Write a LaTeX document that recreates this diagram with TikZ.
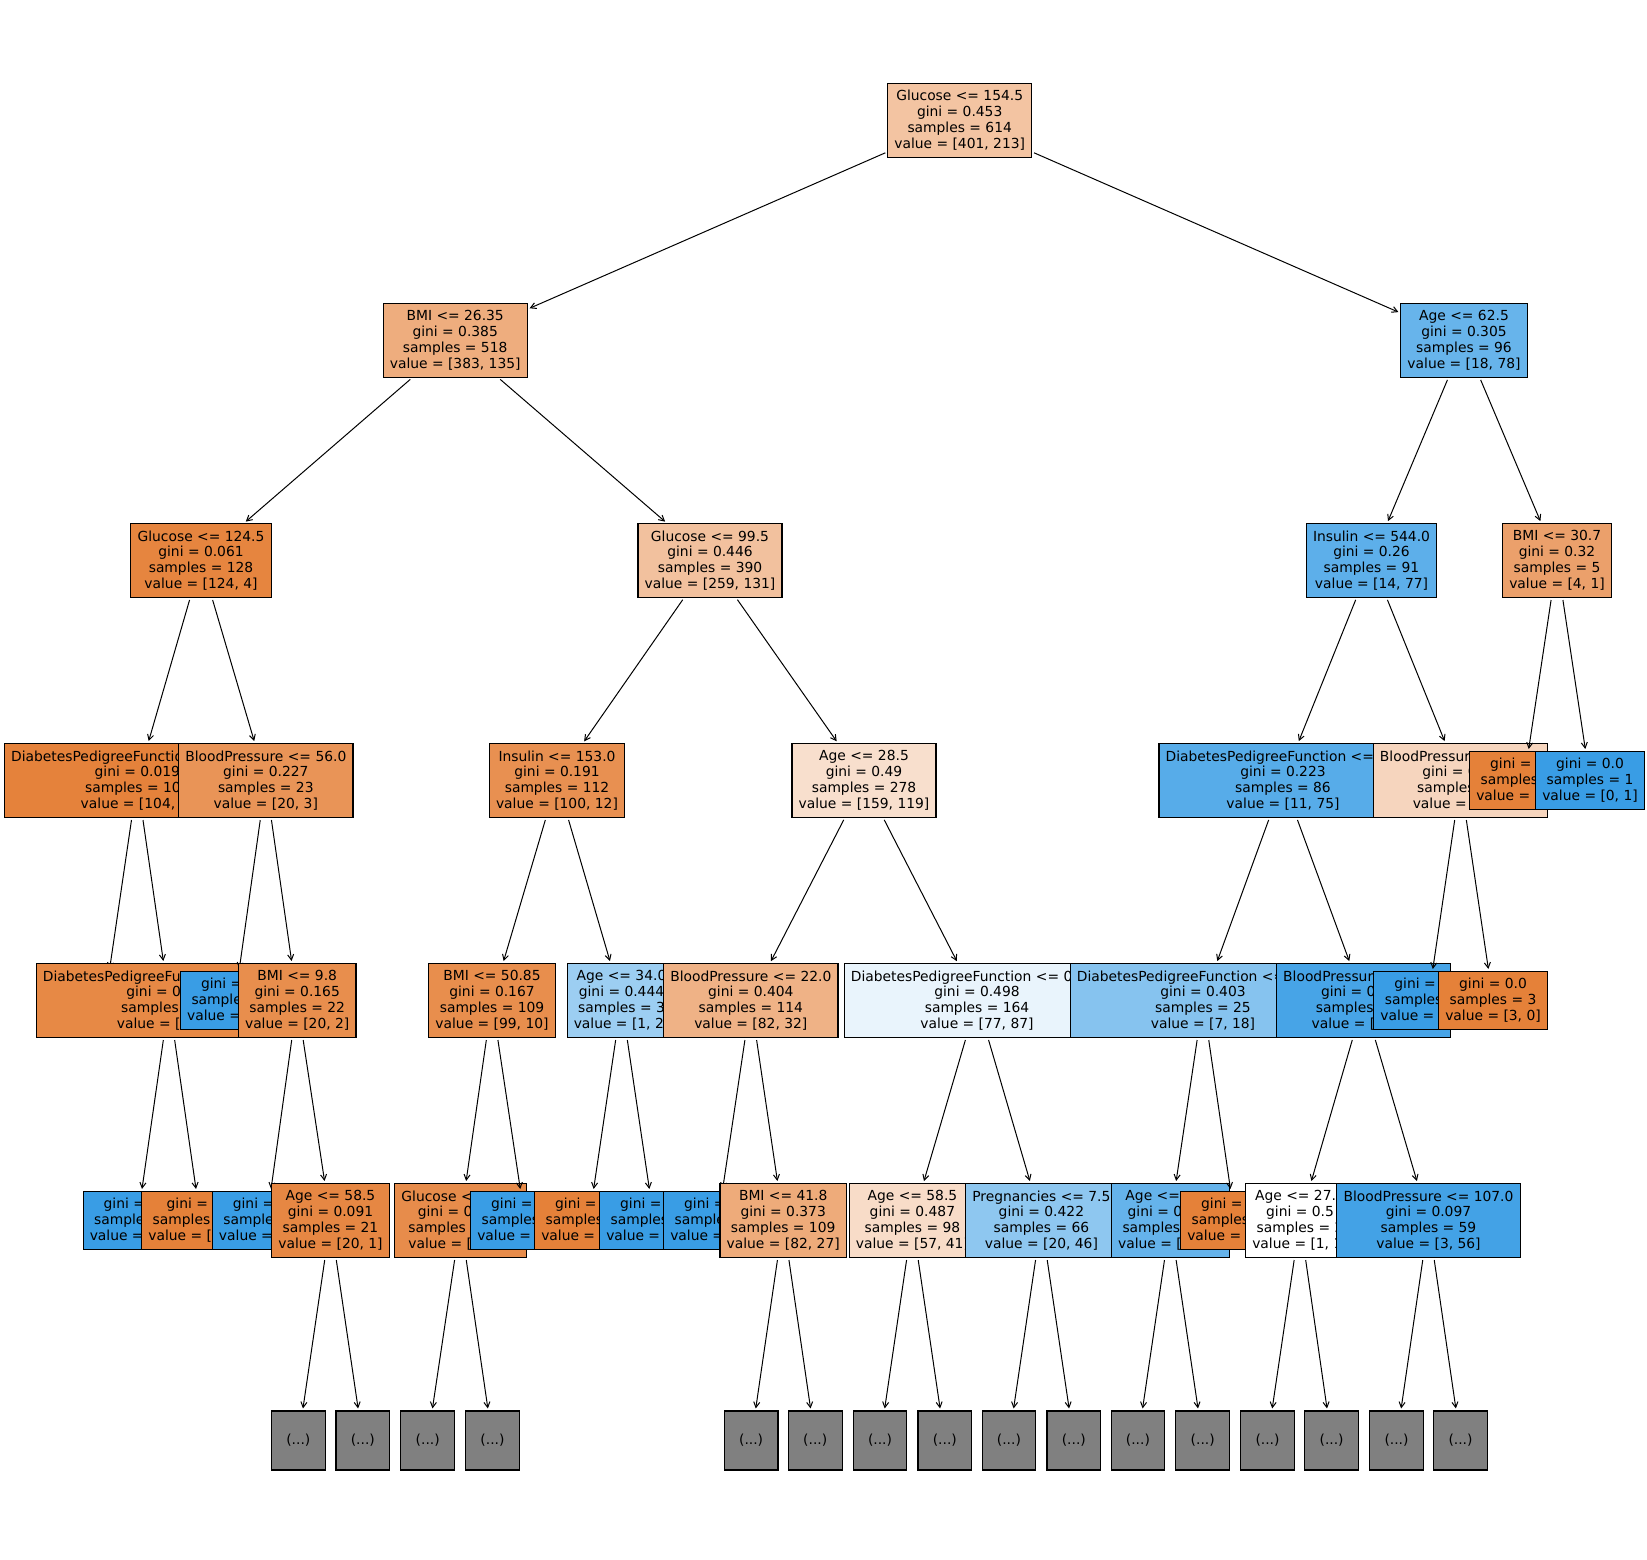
\documentclass[tikz,border=0pt]{standalone}
\usepackage{fontspec}
\setmainfont{DejaVu Sans}
\usetikzlibrary{arrows.meta}
\definecolor{cO}{RGB}{229,129,57}
\definecolor{cB}{RGB}{57,157,229}
\definecolor{cG}{RGB}{128,128,128}
\newcommand{\hd}[1]{\phantom{#1}}
\begin{document}
\begin{tikzpicture}[x=1pt,y=-1pt,
  nd/.style={draw=black, line width=1.1pt, rectangle, align=center, inner xsep=6.65pt, inner ysep=0pt, font={\fontsize{13.85pt}{15.9pt}\selectfont}},
  int/.style={nd, minimum height=74pt},
  lf/.style={nd, minimum height=58pt},
  more/.style={nd, minimum height=59pt, minimum width=53.7pt, fill=cG},
  hid/.style={lf, draw=none},
  edge/.style={-{Straight Barb[length=5.5pt,width=6pt]}, line width=1pt, shorten >=2pt, shorten <=2pt}]
\useasboundingbox (0,0) rectangle (1647,1560);
\fill[white] (0,0) rectangle (1647,1560);
% root
\node[int,fill=cO!47] (r) at (959.7,120.5) {Glucose <= 154.5\\gini = 0.453\\samples = 614\\value = [401, 213]};
% A subtree
\node[int,fill=cO!65] (a) at (455.2,340.5) {BMI <= 26.35\\gini = 0.385\\samples = 518\\value = [383, 135]};
\draw[edge] (r) -- (a);
\node[int,fill=cO!97] (al) at (201,560.5) {Glucose <= 124.5\\gini = 0.061\\samples = 128\\value = [124, 4]};
\draw[edge] (a) -- (al);
\node[int,fill=cO!99] (all) at (137.3,780.5) {DiabetesPedigreeFunction\hd{ <= 0.000}\\gini = 0.019\\samples = 10\hd{5}\\value = [104,\hd{ 1]}};
\draw[edge] (al) -- (all);
\node[hid] (alll) at (105,1000.5) {\hd{gini = 0.0}\\\hd{samples = 87}\\\hd{value = [87, 0]}};
\draw[edge] (all) -- (alll);
\node[int,fill=cO!94] (allr) at (169,1000.5) {DiabetesPedigreeFu\hd{nction <= 0.000}\\gini = 0\hd{.105}\\samples\hd{ = 18}\\value = [\hd{17, 1]}};
\draw[edge] (all) -- (allr);
\node[lf,fill=cB] (allrl) at (137.5,1220.5) {gini =\hd{ 0.0}\\sample\hd{s = 1}\\value =\hd{ [0, 1]}};
\draw[edge] (allr) -- (allrl);
\node[lf,fill=cO] (allrr) at (200.5,1220.5) {gini =\hd{ 0.0}\\samples\hd{ = 17}\\value = [\hd{17, 0]}};
\draw[edge] (allr) -- (allrr);
\node[int,fill=cO!85] (alr) at (265.8,780.5) {BloodPressure <= 56.0\\gini = 0.227\\samples = 23\\value = [20, 3]};
\draw[edge] (al) -- (alr);
\node[lf,fill=cB] (alrl) at (234.9,1000.5) {gini =\hd{ 0.0}\\sample\hd{s = 1}\\value =\hd{ [0, 1]}};
\draw[edge] (alr) -- (alrl);
\node[int,fill=cO!90] (alrr) at (297.2,1000.5) {BMI <= 9.8\\gini = 0.165\\samples = 22\\value = [20, 2]};
\draw[edge] (alr) -- (alrr);
\node[lf,fill=cB] (alrrl) at (266.7,1220.5) {gini =\hd{ 0.0}\\sample\hd{s = 1}\\value =\hd{ [0, 1]}};
\draw[edge] (alrr) -- (alrrl);
\node[int,fill=cO!95] (alrrr) at (330.5,1220.5) {Age <= 58.5\\gini = 0.091\\samples = 21\\value = [20, 1]};
\draw[edge] (alrr) -- (alrrr);
\node[more] (m1) at (298.3,1440.5) {(...)};
\draw[edge] (alrrr) -- (m1);
\node[more] (m2) at (362.8,1440.5) {(...)};
\draw[edge] (alrrr) -- (m2);
\node[int,fill=cO!49] (ar) at (710,560.5) {Glucose <= 99.5\\gini = 0.446\\samples = 390\\value = [259, 131]};
\draw[edge] (a) -- (ar);
\node[int,fill=cO!88] (arl) at (557,780.5) {Insulin <= 153.0\\gini = 0.191\\samples = 112\\value = [100, 12]};
\draw[edge] (ar) -- (arl);
\node[int,fill=cO!90] (arll) at (492,1000.5) {BMI <= 50.85\\gini = 0.167\\samples = 109\\value = [99, 10]};
\draw[edge] (arl) -- (arll);
\node[int,fill=cO!91] (arlll) at (460.5,1220.5) {Glucose <\hd{= 00.0}\\gini = 0\hd{.154}\\samples =\hd{ 108}\\value = [\hd{99, 9]}};
\draw[edge] (arll) -- (arlll);
\node[more] (m3) at (427.7,1440.5) {(...)};
\draw[edge] (arlll) -- (m3);
\node[more] (m4) at (492.5,1440.5) {(...)};
\draw[edge] (arlll) -- (m4);
\node[lf,fill=cB] (arllr) at (525,1220.5) {gini =\hd{ 0.0}\\samples\hd{ = 1}\\value =\hd{ [0, 1]}};
\draw[edge] (arll) -- (arllr);
\node[int,fill=cB!50] (arlr) at (621.5,1000.5) {Age <= 34.0\\gini = 0.444\\samples = 3\\value = [1, 2\hd{]}};
\draw[edge] (arl) -- (arlr);
\node[lf,fill=cO] (arlrl) at (589,1220.5) {gini =\hd{ 0.0}\\samples\hd{ = 1}\\value =\hd{ [1, 0]}};
\draw[edge] (arlr) -- (arlrl);
\node[lf,fill=cB] (arlrr) at (654,1220.5) {gini =\hd{ 0.0}\\samples\hd{ = 2}\\value =\hd{ [0, 2]}};
\draw[edge] (arlr) -- (arlrr);
\node[int,fill=cO!25] (arr) at (864,780.5) {Age <= 28.5\\gini = 0.49\\samples = 278\\value = [159, 119]};
\draw[edge] (ar) -- (arr);
\node[int,fill=cO!61] (arrl) at (750.8,1000.5) {BloodPressure <= 22.0\\gini = 0.404\\samples = 114\\value = [82, 32]};
\draw[edge] (arr) -- (arrl);
\node[lf,fill=cB] (arrll) at (718,1220.5) {gini =\hd{ 0.0}\\sample\hd{s = 5}\\value =\hd{ [0, 5]}};
\draw[edge] (arrl) -- (arrll);
\node[int,fill=cO!67] (arrlr) at (783.2,1220.5) {BMI <= 41.8\\gini = 0.373\\samples = 109\\value = [82, 27]};
\draw[edge] (arrl) -- (arrlr);
\node[more] (m5) at (751.1,1440.5) {(...)};
\draw[edge] (arrlr) -- (m5);
\node[more] (m6) at (815.2,1440.5) {(...)};
\draw[edge] (arrlr) -- (m6);
\node[int,fill=cB!11] (arrr) at (977,1000.5) {DiabetesPedigreeFunction <= 0\hd{.000}\\gini = 0.498\\samples = 164\\value = [77, 87]};
\draw[edge] (arr) -- (arrr);
\node[int,fill=cO!28] (arrrl) at (912.4,1220.5) {Age <= 58.5\\gini = 0.487\\samples = 98\\value = [57, 41]};
\draw[edge] (arrr) -- (arrrl);
\node[more] (m7) at (880,1440.5) {(...)};
\draw[edge] (arrrl) -- (m7);
\node[more] (m8) at (944.8,1440.5) {(...)};
\draw[edge] (arrrl) -- (m8);
\node[int,fill=cB!57] (arrrr) at (1041.4,1220.5) {Pregnancies <= 7.5\\gini = 0.422\\samples = 66\\value = [20, 46]};
\draw[edge] (arrr) -- (arrrr);
\node[more] (m9) at (1008.9,1440.5) {(...)};
\draw[edge] (arrrr) -- (m9);
\node[more] (m10) at (1073.8,1440.5) {(...)};
\draw[edge] (arrrr) -- (m10);
% B subtree
\node[int,fill=cB!77] (b) at (1464,340.5) {Age <= 62.5\\gini = 0.305\\samples = 96\\value = [18, 78]};
\draw[edge] (r) -- (b);
\node[int,fill=cB!82] (bl) at (1371.5,560.5) {Insulin <= 544.0\\gini = 0.26\\samples = 91\\value = [14, 77]};
\draw[edge] (b) -- (bl);
\node[int,fill=cB!85] (bll) at (1283,780.5) {DiabetesPedigreeFunction <=\hd{ 0.5}\\gini = 0.223\\samples = 86\\value = [11, 75]};
\draw[edge] (bl) -- (bll);
\node[int,fill=cB!61] (blll) at (1203,1000.5) {DiabetesPedigreeFunction <=\hd{ 0.000}\\gini = 0.403\\samples = 25\\value = [7, 18]};
\draw[edge] (bll) -- (blll);
\node[int,fill=cB!78] (bllll) at (1170.3,1220.5) {Age <= \hd{00.0}\\gini = 0\hd{.298}\\samples\hd{ = 22}\\value = [\hd{4, 18]}};
\draw[edge] (blll) -- (bllll);
\node[more] (m11) at (1137.9,1440.5) {(...)};
\draw[edge] (bllll) -- (m11);
\node[more] (m12) at (1202.7,1440.5) {(...)};
\draw[edge] (bllll) -- (m12);
\node[lf,fill=cO] (blllr) at (1235,1220.5) {gini =\hd{ 0.0}\\samples\hd{ = 3}\\value =\hd{ [3, 0]}};
\draw[edge] (blll) -- (blllr);
\node[int,fill=cB!93] (bllr) at (1363.7,1000.5) {BloodPressure\hd{ <= 00.0}\\gini = 0\hd{.123}\\samples\hd{ = 61}\\value = [\hd{4, 57]}};
\draw[edge] (bll) -- (bllr);
\node[int,fill=white] (bllrl) at (1300,1220.5) {Age <= 27.0\\gini = 0.5\\samples = 2\\value = [1, 1\hd{]}};
\draw[edge] (bllr) -- (bllrl);
\node[more] (m13) at (1267.5,1440.5) {(...)};
\draw[edge] (bllrl) -- (m13);
\node[more] (m14) at (1331.6,1440.5) {(...)};
\draw[edge] (bllrl) -- (m14);
\node[int,fill=cB!95] (bllrr) at (1428.5,1220.5) {BloodPressure <= 107.0\\gini = 0.097\\samples = 59\\value = [3, 56]};
\draw[edge] (bllr) -- (bllrr);
\node[more] (m15) at (1396.5,1440.5) {(...)};
\draw[edge] (bllrr) -- (m15);
\node[more] (m16) at (1460.5,1440.5) {(...)};
\draw[edge] (bllrr) -- (m16);
\node[int,fill=cO!33] (blr) at (1460.5,780.5) {BloodPressure\hd{ <= 00.0}\\gini = 0\hd{.48}\\samples\hd{ = 5}\\value =\hd{ [3, 2]}};
\draw[edge] (bl) -- (blr);
\node[lf,fill=cB] (blrl) at (1428.2,1000.5) {gini =\hd{ 0.0}\\samples\hd{ = 2}\\value =\hd{ [0, 2]}};
\draw[edge] (blr) -- (blrl);
\node[lf,fill=cO] (blrr) at (1493,1000.5) {gini = 0.0\\samples = 3\\value = [3, 0]};
\draw[edge] (blr) -- (blrr);
\node[int,fill=cO!75] (br) at (1557,560.5) {BMI <= 30.7\\gini = 0.32\\samples = 5\\value = [4, 1]};
\draw[edge] (b) -- (br);
\node[lf,fill=cO] (brl) at (1524,780.5) {gini =\hd{ 0.0}\\samples\hd{ = 4}\\value =\hd{ [4, 0]}};
\draw[edge] (br) -- (brl);
\node[lf,fill=cB] (brr) at (1590,780.5) {gini = 0.0\\samples = 1\\value = [0, 1]};
\draw[edge] (br) -- (brr);
\end{tikzpicture}
\end{document}
